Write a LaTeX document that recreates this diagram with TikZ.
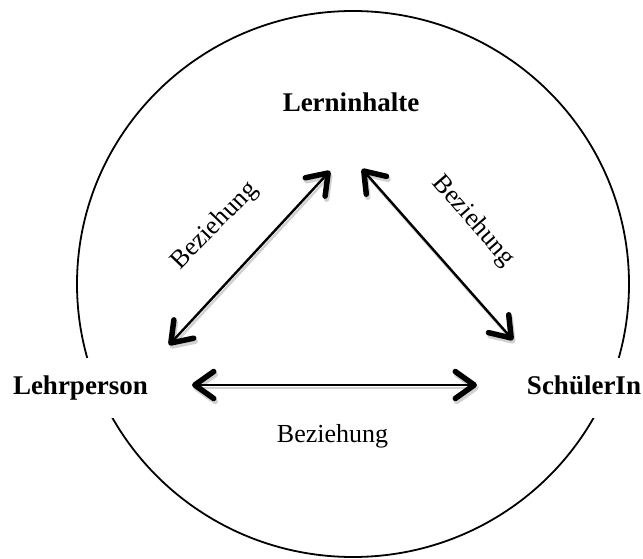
\documentclass[tikz,border=0pt]{standalone}
\usepackage{fontspec}
\setmainfont{Liberation Serif}
\usetikzlibrary{arrows.meta}
\begin{document}
\begin{tikzpicture}[x=1pt,y=-1pt,
  lbl/.style={font=\fontsize{27}{32}\selectfont\bfseries, anchor=base, fill=white,
    text height=18pt, text depth=6pt, inner ysep=18pt, inner xsep=3pt},
  rel/.style={font=\fontsize{26}{31}\selectfont, inner sep=1pt},
  dbl/.style={line width=2.4pt, {Straight Barb[length=19pt,width=27pt,line width=5.5pt,round]}-{Straight Barb[length=19pt,width=27pt,line width=5.5pt,round]}},
  shadowed/.style={dbl, draw=black!18, transform canvas={shift={(1.5pt,-3pt)}}}
]
\useasboundingbox (0,0) rectangle (643,559);
\fill[white] (0,0) rectangle (643,559);
\draw[line width=1.8pt] (353,284) ellipse [x radius=276pt, y radius=273pt];

\node[lbl] (L) at (351,112) {Lerninhalte};
\node[lbl] (P) at (80.5,394) {Lehrperson};
\node[lbl] (S) at (584,394) {SchülerIn};

\node[rel, anchor=base] (B3) at (332.5,442) {Beziehung};
\node[rel, rotate=46] (B1) at (215,226) {Beziehung};
\node[rel, rotate=-49] (B2) at (473,221) {Beziehung};

\coordinate (a1) at (330,171);
\coordinate (a2) at (169,345);
\coordinate (b1) at (362,169);
\coordinate (b2) at (513,340);
\coordinate (c1) at (192,385);
\coordinate (c2) at (477,385);

\draw[shadowed] (a2) -- (a1);
\draw[shadowed] (b1) -- (b2);
\draw[shadowed] (c1) -- (c2);

\draw[dbl] (a2) -- (a1);
\draw[dbl] (b1) -- (b2);
\draw[dbl] (c1) -- (c2);
\end{tikzpicture}
\end{document}
